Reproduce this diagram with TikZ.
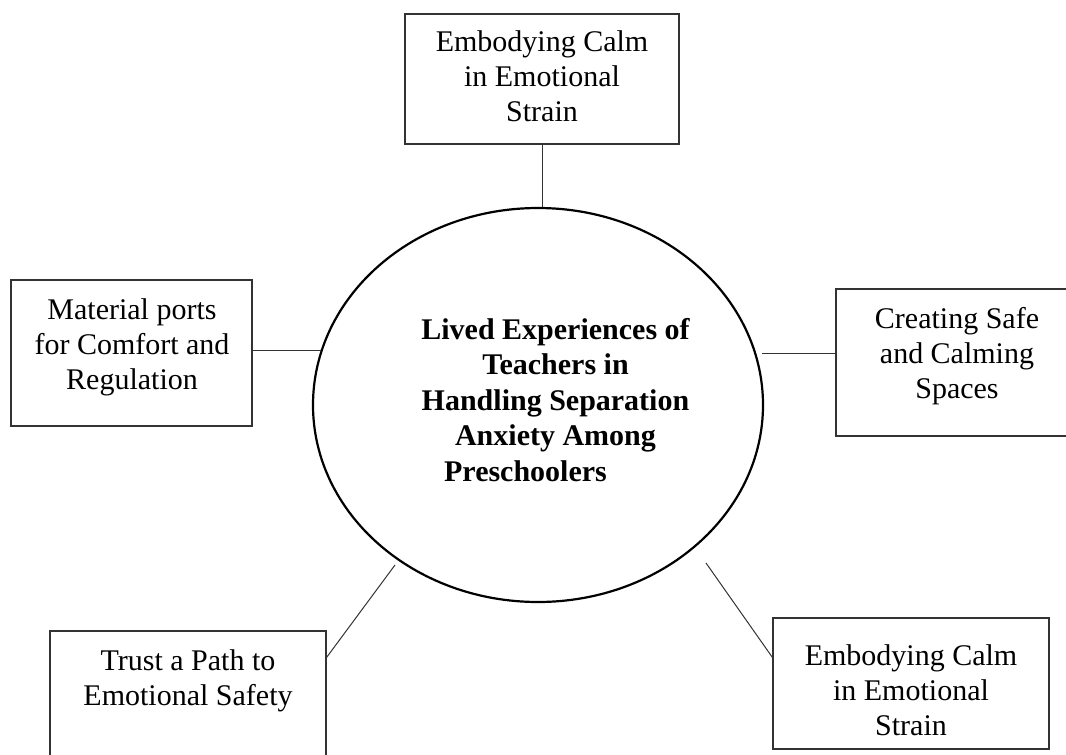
\documentclass[tikz,border=0pt]{standalone}
\usepackage{fontspec}
\setmainfont{Liberation Serif}
\usetikzlibrary{shapes.geometric}
\begin{document}
\begin{tikzpicture}[x=1pt,y=-1pt,
  themebox/.style={draw=black!80,line width=1.3pt,rectangle,inner sep=0pt},
  boxtext/.style={align=center,inner sep=0pt,font=\fontsize{30}{35}\selectfont},
  coretext/.style={align=center,inner sep=0pt,font=\fontsize{30}{35.5}\selectfont\bfseries},
  link/.style={draw=black!80,line width=1pt}]
\useasboundingbox (0,0) rectangle (1066,755);
\clip (0,0) rectangle (1066,755);

% central theme
\node[ellipse,draw=black,line width=2.2pt,minimum width=450pt,minimum height=394pt,inner sep=0pt] (e) at (538,405) {};
\node[coretext] (core) at (555.5,400) {Lived Experiences of\\Teachers in\\Handling Separation\\Anxiety Among\\\hspace*{-60pt}Preschoolers};

% sub-themes
\node[themebox,minimum width=274pt,minimum height=130pt] (b1) at (542,79) {};
\node[boxtext] (t1) at (542,76) {Embodying Calm\\in Emotional\\Strain};

\node[themebox,minimum width=241pt,minimum height=146pt] (b2) at (131.5,353) {};
\node[boxtext] (t2) at (132,347) {Material ports\\for Comfort and\\Regulation};

\node[themebox,minimum width=242pt,minimum height=147pt] (b3) at (957,362.5) {};
\node[boxtext] (t3) at (957,356) {Creating Safe\\and Calming\\Spaces};

\node[themebox,minimum width=276pt,minimum height=144pt] (b4) at (188,703) {};
\node[boxtext] (t4) at (188,680.5) {Trust a Path to\\Emotional Safety};

\node[themebox,minimum width=276pt,minimum height=131pt] (b5) at (911,683.5) {};
\node[boxtext] (t5) at (911,690) {Embodying Calm\\in Emotional\\Strain};

% free ends of the spokes near the ellipse
\coordinate (c3) at (762,353);
\coordinate (c4) at (395,565);
\coordinate (c5) at (706,563);

% spokes
\draw[link] (b1.south) -- (b1.south |- e.north);
\draw[link] (e.166) -- (e.166 -| b2.east);
\draw[link] (c3) -- (c3 -| b3.west);
\draw[link] (c4) -- ([yshift=-27pt]b4.north east);
\draw[link] (c5) -- ([yshift=-40pt]b5.north west);
\end{tikzpicture}
\end{document}
